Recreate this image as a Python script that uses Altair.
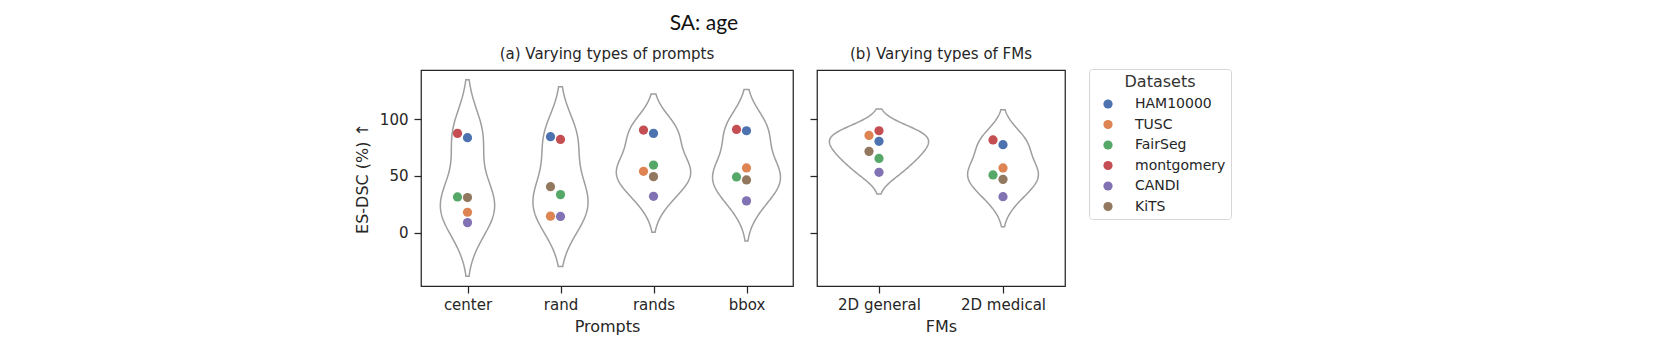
import altair as alt
import numpy as np
import pandas as pd

# ---------------- data ----------------
datasets = ["HAM10000", "TUSC", "FairSeg", "montgomery", "CANDI", "KiTS"]
palette = ["#4C72B0", "#DD8452", "#55A868", "#C44E52", "#8172B3", "#937860"]

prompts = ["center", "rand", "rands", "bbox"]
# scores listed in the order of `datasets`
score_center = [83.6, 18.1, 31.6, 87.4, 9.0, 31.0]
score_rand = [84.5, 14.7, 33.6, 82.1, 14.4, 40.6]
score_rands = [87.4, 54.1, 59.6, 90.3, 32.1, 49.4]
score_bbox = [89.7, 57.0, 49.1, 90.9, 28.1, 46.5]

fms = ["2D general", "2D medical"]
score_general = [80.4, 85.6, 65.4, 89.7, 53.2, 71.6]
score_medical = [77.5, 57.0, 50.9, 81.6, 31.8, 47.0]

prompt_scores = [score_center, score_rand, score_rands, score_bbox]
fm_scores = [score_general, score_medical]

LEFT_W, RIGHT_W, H = 372, 248, 216
DOT_SHIFT_PX = 10
SWARM_GAP = 7.5


def kde(vals):
    v = np.asarray(vals, float)
    n = len(v)
    bw = v.std(ddof=1) * n ** (-0.2)
    grid = np.linspace(v.min() - 2 * bw, v.max() + 2 * bw, 160)
    d = np.exp(-0.5 * ((grid[:, None] - v[None, :]) / bw) ** 2).sum(1) / (n * bw * np.sqrt(2 * np.pi))
    return grid, d


def violin_frame(cats, groups):
    parts = []
    dens = [kde(g) for g in groups]
    dmax = max(d.max() for _, d in dens)
    for i, (c, (g, d)) in enumerate(zip(cats, dens)):
        hw = 0.4 * d / dmax
        parts.append(pd.DataFrame({"cat": c, "y": g, "lo": i - hw, "hi": i + hw}))
    return pd.concat(parts, ignore_index=True)


def swarm_slots(vals):
    order = np.argsort(vals, kind="stable")
    placed = []
    slots = [0] * len(vals)
    for i in order:
        for s in [0, -1, 1, -2, 2]:
            if all(not (ps == s and abs(pv - vals[i]) < SWARM_GAP) for pv, ps in placed):
                break
        placed.append((vals[i], s))
        slots[i] = s
    return slots


def point_frame(cats, groups, width):
    rows = []
    unit = len(cats) / width
    for i, (c, g) in enumerate(zip(cats, groups)):
        slots = swarm_slots(g)
        for ds, val, s in zip(datasets, g, slots):
            rows.append({"cat": c, "dataset": ds, "score": val, "xpos": i + s * DOT_SHIFT_PX * unit})
    return pd.DataFrame(rows)


vl = violin_frame(prompts, prompt_scores)
vr = violin_frame(fms, fm_scores)
pl = point_frame(prompts, prompt_scores, LEFT_W)
pr = point_frame(fms, fm_scores, RIGHT_W)

lo = min(vl["y"].min(), vr["y"].min())
hi = max(vl["y"].max(), vr["y"].max())
m = 0.05 * (hi - lo)
ydom = [lo - m, hi + m]

TXT = "#262626"
FONT = "DejaVu Sans"

legend = alt.Legend(
    title="Datasets", orient="none", legendX=668, legendY=-1,
    titleAnchor="middle", titleFontSize=16, titleFontWeight="normal", titleColor="#333333",
    titleFont=FONT, labelFont=FONT, labelFontSize=14, labelColor=TXT,
    symbolType="circle", symbolSize=85, symbolStrokeWidth=0, symbolOffset=7,
    labelOffset=20, rowPadding=6.5, padding=5, titlePadding=7,
    strokeColor="#d6d6d6", cornerRadius=3, fillColor="white",
)


def panel(cats, vdf, pdf, width, title, xtitle, ylabels):
    n = len(cats)
    labexpr = "[" + ",".join("'" + c + "'" for c in cats) + "][round(datum.value)]"
    xscale = alt.Scale(domain=[-0.5, n - 0.5], nice=False, zero=False)
    xaxis = alt.Axis(values=list(range(n)), labelExpr=labexpr, title=xtitle, labelPadding=4, titlePadding=6)
    yscale = alt.Scale(domain=ydom, nice=False, zero=False)
    if ylabels:
        yaxis = alt.Axis(values=[0, 50, 100], title="ES-DSC (%)  \u2191", labelPadding=6, titlePadding=9)
    else:
        yaxis = alt.Axis(values=[0, 50, 100], labels=False, title=None)
    vio = alt.Chart(vdf).mark_area(
        orient="horizontal", fill="white", fillOpacity=0, stroke="#9e9e9e", strokeWidth=1.5
    ).encode(
        y=alt.Y("y:Q", scale=yscale, axis=yaxis),
        x=alt.X("lo:Q", scale=xscale, axis=xaxis),
        x2="hi:Q",
        detail="cat:N",
    )
    pts = alt.Chart(pdf).mark_circle(size=85, opacity=1).encode(
        y=alt.Y("score:Q", scale=yscale, axis=yaxis),
        x=alt.X("xpos:Q", scale=xscale, axis=xaxis),
        color=alt.Color("dataset:N", scale=alt.Scale(domain=datasets, range=palette), legend=legend),
    )
    return alt.layer(vio, pts).properties(
        width=width, height=H,
        title=alt.TitleParams(title, fontSize=15, font=FONT, fontWeight="normal", color=TXT, offset=8),
    )


left = panel(prompts, vl, pl, LEFT_W, "(a) Varying types of prompts", "Prompts", True)
right = panel(fms, vr, pr, RIGHT_W, "(b) Varying types of FMs", "FMs", False)

chart = alt.hconcat(left, right, spacing=14).resolve_scale(x="independent").properties(
    title=alt.TitleParams("SA: age", font="Lato", fontSize=21, fontWeight="normal", color="#111111",
                          anchor="start", dx=316, offset=12),
    padding={"left": 345, "top": 5, "right": 5, "bottom": 5},
).configure_axis(
    labelFont=FONT, titleFont=FONT, labelFontSize=15, titleFontSize=16, titleFontWeight="normal",
    labelColor=TXT, titleColor=TXT, tickColor=TXT, tickWidth=1.25, tickSize=7,
    domain=False, grid=False,
).configure_view(stroke=TXT, strokeWidth=1.25)

chart.save("out.html", embed_options={"renderer": "svg", "actions": False})
